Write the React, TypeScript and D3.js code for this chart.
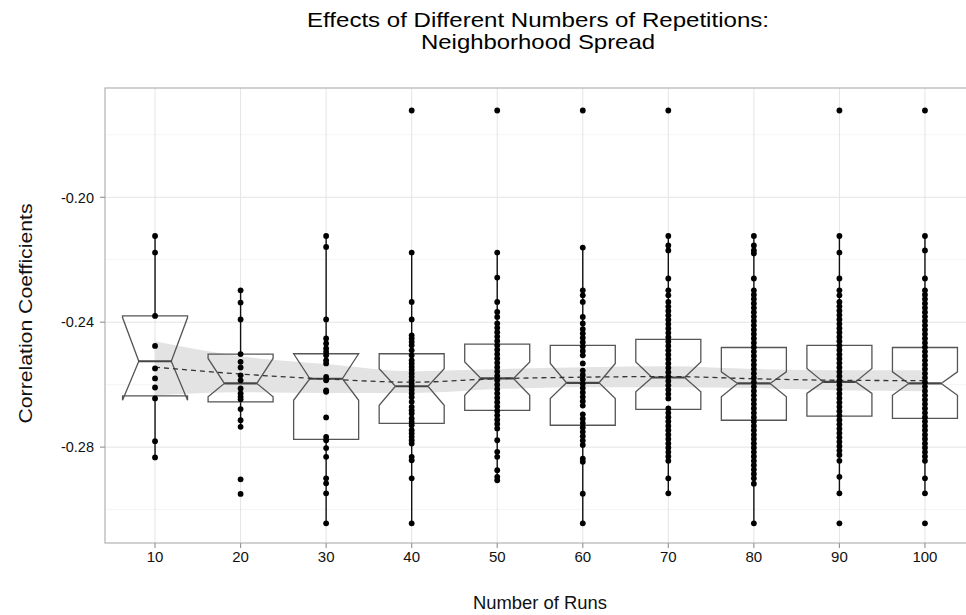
import * as d3 from 'd3';

// Number of runs per condition
const runs = [10, 20, 30, 40, 50, 60, 70, 80, 90, 100];

// Box summaries (correlation coefficients)
const q1 = [-0.2636, -0.2655, -0.2775, -0.2724, -0.2682, -0.273, -0.2679, -0.2714, -0.2701, -0.2708];
const medians = [-0.2525, -0.2596, -0.2581, -0.2605, -0.258, -0.2594, -0.2577, -0.2596, -0.2591, -0.2596];
const q3 = [-0.238, -0.2502, -0.2501, -0.2501, -0.247, -0.2474, -0.2455, -0.2481, -0.2474, -0.2481];
const notchLow = [-0.265, -0.2639, -0.265, -0.2666, -0.2634, -0.2644, -0.2623, -0.2639, -0.2628, -0.2634];
const notchHigh = [-0.2385, -0.2516, -0.2501, -0.2549, -0.2527, -0.2532, -0.2527, -0.2559, -0.2548, -0.2559];
const whiskerLow = [-0.2833, -0.2737, -0.3044, -0.3044, -0.2906, -0.3044, -0.2948, -0.3044, -0.2948, -0.2948];
const whiskerHigh = [-0.2124, -0.2298, -0.2124, -0.2177, -0.2177, -0.2161, -0.2124, -0.2124, -0.2124, -0.2124];

// Smoother (dashed line) and its confidence band
const smoothFit = [-0.2544, -0.2566, -0.2582, -0.2592, -0.2581, -0.2576, -0.2574, -0.2581, -0.2586, -0.2587];
const smoothLow = [-0.2634, -0.2624, -0.2627, -0.2627, -0.2614, -0.2608, -0.2608, -0.2611, -0.2618, -0.2621];
const smoothHigh = [-0.2461, -0.2509, -0.2534, -0.2557, -0.255, -0.2544, -0.2541, -0.255, -0.2554, -0.2554];

// Individual observations per condition
const points10 = [-0.2124, -0.2177, -0.238, -0.2476, -0.2548, -0.258, -0.2609, -0.2644, -0.2781, -0.2833];
const points20 = [-0.2298, -0.2337, -0.2391, -0.2502, -0.2527, -0.2545, -0.257, -0.2586, -0.2612, -0.2628, -0.2639,
  -0.2647, -0.2678, -0.2714, -0.2735, -0.2903, -0.295];
const points30 = [-0.2124, -0.2159, -0.2391, -0.2452, -0.2468, -0.2484, -0.2495, -0.2506, -0.2522, -0.2532, -0.2575,
  -0.2586, -0.2618, -0.2623, -0.2705, -0.2767, -0.2778, -0.2803, -0.2831, -0.29, -0.2916, -0.2948, -0.3044];
const points40 = [-0.1722, -0.2177, -0.2335, -0.2391, -0.2442, -0.2452, -0.2463, -0.2474, -0.249, -0.2506, -0.2522,
  -0.2532, -0.2543, -0.2553, -0.2564, -0.2575, -0.2586, -0.2597, -0.2607, -0.2617, -0.2628, -0.264, -0.2655, -0.2671,
  -0.2682, -0.2692, -0.2708, -0.2719, -0.273, -0.2746, -0.2756, -0.2767, -0.2778, -0.2788, -0.2831, -0.2842, -0.29, -0.3044];
const points50 = [-0.1722, -0.2177, -0.2257, -0.2335, -0.2367, -0.2383, -0.2404, -0.2418, -0.2432, -0.2446, -0.246,
  -0.2474, -0.2488, -0.2502, -0.2516, -0.253, -0.2544, -0.2558, -0.2572, -0.2586, -0.26, -0.2614, -0.2628, -0.2642,
  -0.2656, -0.267, -0.2684, -0.2698, -0.2712, -0.2726, -0.274, -0.2778, -0.2815, -0.2831, -0.2874, -0.2895, -0.2906];
const points60 = [-0.1722, -0.2161, -0.2298, -0.2314, -0.2335, -0.2383, -0.2404, -0.2422, -0.2436, -0.245, -0.2464,
  -0.2478, -0.2492, -0.2506, -0.2532, -0.2555, -0.2569, -0.2583, -0.2597, -0.2611, -0.2625, -0.2639, -0.2653, -0.2667,
  -0.2695, -0.2709, -0.2723, -0.2737, -0.2751, -0.2765, -0.2779, -0.2793, -0.2837, -0.2847, -0.2949, -0.3044];
const points70 = [-0.1722, -0.2124, -0.2154, -0.217, -0.226, -0.2298, -0.2314, -0.2335, -0.235, -0.2364, -0.2378,
  -0.2392, -0.2406, -0.242, -0.2434, -0.2448, -0.2462, -0.2476, -0.249, -0.2504, -0.2518, -0.2532, -0.2546, -0.256,
  -0.2574, -0.2588, -0.2602, -0.2616, -0.263, -0.2644, -0.2676, -0.269, -0.2704, -0.2718, -0.2732, -0.2746, -0.276,
  -0.2774, -0.2788, -0.2802, -0.2816, -0.283, -0.2844, -0.29, -0.2948];
const points80 = [-0.2124, -0.2154, -0.217, -0.218, -0.226, -0.2298, -0.2312, -0.2326, -0.234, -0.2354, -0.2368,
  -0.2382, -0.2396, -0.241, -0.2424, -0.2438, -0.2452, -0.2466, -0.248, -0.2494, -0.2508, -0.2522, -0.2536, -0.255,
  -0.2564, -0.2578, -0.2592, -0.2606, -0.262, -0.2634, -0.2648, -0.2662, -0.2676, -0.269, -0.2704, -0.2718, -0.2732,
  -0.2746, -0.276, -0.2774, -0.2788, -0.2802, -0.2816, -0.283, -0.2844, -0.2858, -0.2872, -0.2886, -0.29, -0.2917, -0.3044];
const points90 = [-0.1722, -0.2124, -0.2177, -0.226, -0.2298, -0.2314, -0.2335, -0.2349, -0.2363, -0.2377, -0.2391,
  -0.2405, -0.2419, -0.2433, -0.2447, -0.2461, -0.2475, -0.2489, -0.2503, -0.2517, -0.2531, -0.2545, -0.2559, -0.2573,
  -0.2587, -0.2601, -0.2615, -0.2629, -0.2643, -0.2657, -0.2671, -0.2685, -0.2699, -0.2713, -0.2727, -0.2741, -0.2755,
  -0.2769, -0.2783, -0.2797, -0.2811, -0.2825, -0.2844, -0.2895, -0.2948, -0.3044];
const points100 = [-0.1722, -0.2124, -0.217, -0.226, -0.2298, -0.2312, -0.2326, -0.234, -0.2354, -0.2368, -0.2382,
  -0.2396, -0.241, -0.2424, -0.2438, -0.2452, -0.2466, -0.248, -0.2494, -0.2508, -0.2522, -0.2536, -0.255, -0.2564,
  -0.2578, -0.2592, -0.2606, -0.262, -0.2634, -0.2648, -0.2662, -0.2676, -0.269, -0.2704, -0.2718, -0.2732, -0.2746,
  -0.276, -0.2774, -0.2788, -0.2802, -0.2816, -0.283, -0.2844, -0.29, -0.2948, -0.3044];
const pointsByRun = [points10, points20, points30, points40, points50, points60, points70, points80, points90, points100];

// Axis ticks
const yMajorTicks = [-0.2, -0.24, -0.28];
const yMinorTicks = [-0.18, -0.22, -0.26, -0.3];

const FONT = "'Liberation Sans', Arial, Helvetica, sans-serif";

export default function App() {
  const width = 966;
  const height = 615;
  const panel = { left: 105, top: 88, right: 975, bottom: 543 };

  const x = d3
    .scalePoint<number>()
    .domain(runs)
    .range([panel.left, panel.right])
    .padding(0.585);
  const step = x.step();
  const halfBox = step * 0.38;
  const notchIndent = halfBox / 2;

  const y = d3.scaleLinear().domain([-0.3107, -0.165]).range([panel.bottom, panel.top]);

  const smoothRows = runs.map((r, i) => ({ run: r, fit: smoothFit[i], lo: smoothLow[i], hi: smoothHigh[i] }));
  const band = d3
    .area<{ run: number; lo: number; hi: number }>()
    .x((d) => x(d.run) ?? 0)
    .y0((d) => y(d.lo))
    .y1((d) => y(d.hi))
    .curve(d3.curveMonotoneX);
  const fitLine = d3
    .line<{ run: number; fit: number }>()
    .x((d) => x(d.run) ?? 0)
    .y((d) => y(d.fit))
    .curve(d3.curveMonotoneX);

  const boxPath = (i: number) => {
    const xc = x(runs[i]) ?? 0;
    const l = xc - halfBox;
    const r = xc + halfBox;
    const pts: [number, number][] = [
      [l, y(q3[i])],
      [l, y(notchHigh[i])],
      [xc - notchIndent, y(medians[i])],
      [l, y(notchLow[i])],
      [l, y(q1[i])],
      [r, y(q1[i])],
      [r, y(notchLow[i])],
      [xc + notchIndent, y(medians[i])],
      [r, y(notchHigh[i])],
      [r, y(q3[i])],
    ];
    return d3.line()(pts) + 'Z';
  };

  return (
    <svg
      width={width}
      height={height}
      style={{ position: 'absolute', left: 0, top: 0, background: '#fff' }}
      fontFamily={FONT}
    >
      <defs>
        <clipPath id="panel-clip">
          <rect x={panel.left} y={panel.top} width={panel.right - panel.left} height={panel.bottom - panel.top} />
        </clipPath>
      </defs>

      <text x={538} y={27} textAnchor="middle" fontSize="21" fill="#000" textLength={462} lengthAdjust="spacingAndGlyphs">
        Effects of Different Numbers of Repetitions:
      </text>
      <text x={538} y={49} textAnchor="middle" fontSize="21" fill="#000" textLength={234} lengthAdjust="spacingAndGlyphs">
        Neighborhood Spread
      </text>

      <g clipPath="url(#panel-clip)">
        {yMinorTicks.map((t) => (
          <line key={t} x1={panel.left} x2={panel.right} y1={y(t)} y2={y(t)} stroke="#f2f2f2" strokeWidth={0.8} />
        ))}
        {yMajorTicks.map((t) => (
          <line key={t} x1={panel.left} x2={panel.right} y1={y(t)} y2={y(t)} stroke="#e4e4e4" strokeWidth={1} />
        ))}
        {runs.map((r) => (
          <line key={r} x1={x(r)} x2={x(r)} y1={panel.top} y2={panel.bottom} stroke="#e4e4e4" strokeWidth={1} />
        ))}

        <path d={band(smoothRows) ?? ''} fill="#e3e3e3" />

        {runs.map((r, i) => {
          const xc = x(r) ?? 0;
          return (
            <g key={r}>
              <line x1={xc} x2={xc} y1={y(q3[i])} y2={y(whiskerHigh[i])} stroke="#111" strokeWidth={1.4} />
              <line x1={xc} x2={xc} y1={y(q1[i])} y2={y(whiskerLow[i])} stroke="#111" strokeWidth={1.4} />
              <path d={boxPath(i)} fill="none" stroke="#555" strokeWidth={1.3} strokeLinejoin="miter" />
              <line
                x1={xc - notchIndent}
                x2={xc + notchIndent}
                y1={y(medians[i])}
                y2={y(medians[i])}
                stroke="#444"
                strokeWidth={2.2}
              />
            </g>
          );
        })}

        <path d={fitLine(smoothRows) ?? ''} fill="none" stroke="#333" strokeWidth={1.3} strokeDasharray="5 4" />

        {runs.map((r, i) =>
          pointsByRun[i].map((v, j) => <circle key={`${r}-${j}`} cx={x(r)} cy={y(v)} r={2.9} fill="#000" />)
        )}
      </g>

      <rect
        x={panel.left}
        y={panel.top}
        width={panel.right - panel.left}
        height={panel.bottom - panel.top}
        fill="none"
        stroke="#b8b8b8"
        strokeWidth={1.3}
      />

      {yMajorTicks.map((t) => (
        <g key={t} transform={`translate(${panel.left},${y(t)})`}>
          <line x1={-5} x2={0} stroke="#999" strokeWidth={1.2} />
          <text x={-11} dy="0.36em" textAnchor="end" fontSize="14.5" fill="#111">
            {t.toFixed(2)}
          </text>
        </g>
      ))}

      {runs.map((r) => (
        <g key={r} transform={`translate(${x(r)},${panel.bottom})`}>
          <line y1={0} y2={5} stroke="#999" strokeWidth={1.2} />
          <text y={19} textAnchor="middle" fontSize="15" fill="#111">
            {r}
          </text>
        </g>
      ))}

      <text x={540} y={609} textAnchor="middle" fontSize="17.5" fill="#111" textLength={134} lengthAdjust="spacingAndGlyphs">
        Number of Runs
      </text>
      <text
        transform={`translate(32,${(panel.top + panel.bottom) / 2 - 2}) rotate(-90)`}
        textAnchor="middle"
        fontSize="17.5"
        fill="#111"
        textLength={220}
        lengthAdjust="spacingAndGlyphs"
      >
        Correlation Coefficients
      </text>
    </svg>
  );
}
